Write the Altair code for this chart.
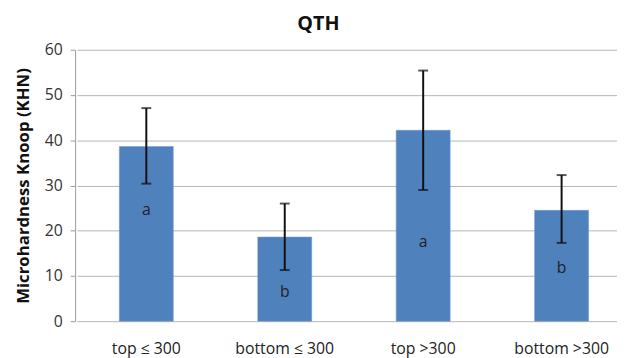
import altair as alt
import pandas as pd

categories = ["top ≤ 300", "bottom  ≤ 300", "top >300", "bottom >300"]
means = [38.6, 18.6, 42.2, 24.5]
err_high = [47.1, 26.0, 55.4, 32.3]
err_low = [30.4, 11.3, 29.0, 17.3]
letters = ["a", "b", "a", "b"]
letter_pos = [24.6, 6.5, 17.5, 11.8]

df = pd.DataFrame({
    "cat": categories, "mean": means, "hi": err_high, "lo": err_low,
    "letter": letters, "lpos": letter_pos,
})

FONT = "Open Sans"

x = alt.X("cat:N", sort=categories, title=None,
          scale=alt.Scale(range=[2, 563], paddingInner=0.61, paddingOuter=0.305),
          axis=alt.Axis(labelAngle=0, ticks=False, domain=False, labelPadding=20,
                        labelFontSize=16, labelColor="#222", labelFont=FONT))
y = alt.Y("mean:Q", title="Microhardness  Knoop (KHN)",
          scale=alt.Scale(domain=[0, 60]),
          axis=alt.Axis(values=[0, 10, 20, 30, 40, 50, 60], tickSize=5, tickColor="#999",
                        domainColor="#999", gridColor="#b5b5b5", labelPadding=8,
                        labelFontSize=16, labelColor="#333", labelFont=FONT,
                        titleFont=FONT, titleFontSize=17, titleFontWeight="bold",
                        titleColor="#111", titlePadding=12))

base = alt.Chart(df)
bars = base.mark_bar(color="#4F81BD", stroke="#6d9ad0", strokeWidth=0.5).encode(x=x, y=y)
rule = base.mark_rule(color="#111", strokeWidth=2).encode(x=alt.X("cat:N", sort=categories), y="lo:Q", y2="hi:Q")
cap_hi = base.mark_tick(color="#111", size=10, thickness=2).encode(x=alt.X("cat:N", sort=categories), y="hi:Q")
cap_lo = base.mark_tick(color="#111", size=10, thickness=2).encode(x=alt.X("cat:N", sort=categories), y="lo:Q")
txt = base.mark_text(font=FONT, fontSize=16, color="#222").encode(
    x=alt.X("cat:N", sort=categories), y="lpos:Q", text="letter:N")

chart = alt.layer(bars, rule, cap_hi, cap_lo, txt).properties(
    width=549, height=275,
    title=alt.TitleParams("QTH", font=FONT, fontSize=20, fontWeight="bold", color="#111",
                          offset=8, dx=-28),
    autosize=alt.AutoSizeParams(type="none"),
    padding={"left": 68, "top": 40, "right": 0, "bottom": 35},
).configure_view(stroke=None)

chart.save("out.html", embed_options={"renderer": "svg", "actions": False})
